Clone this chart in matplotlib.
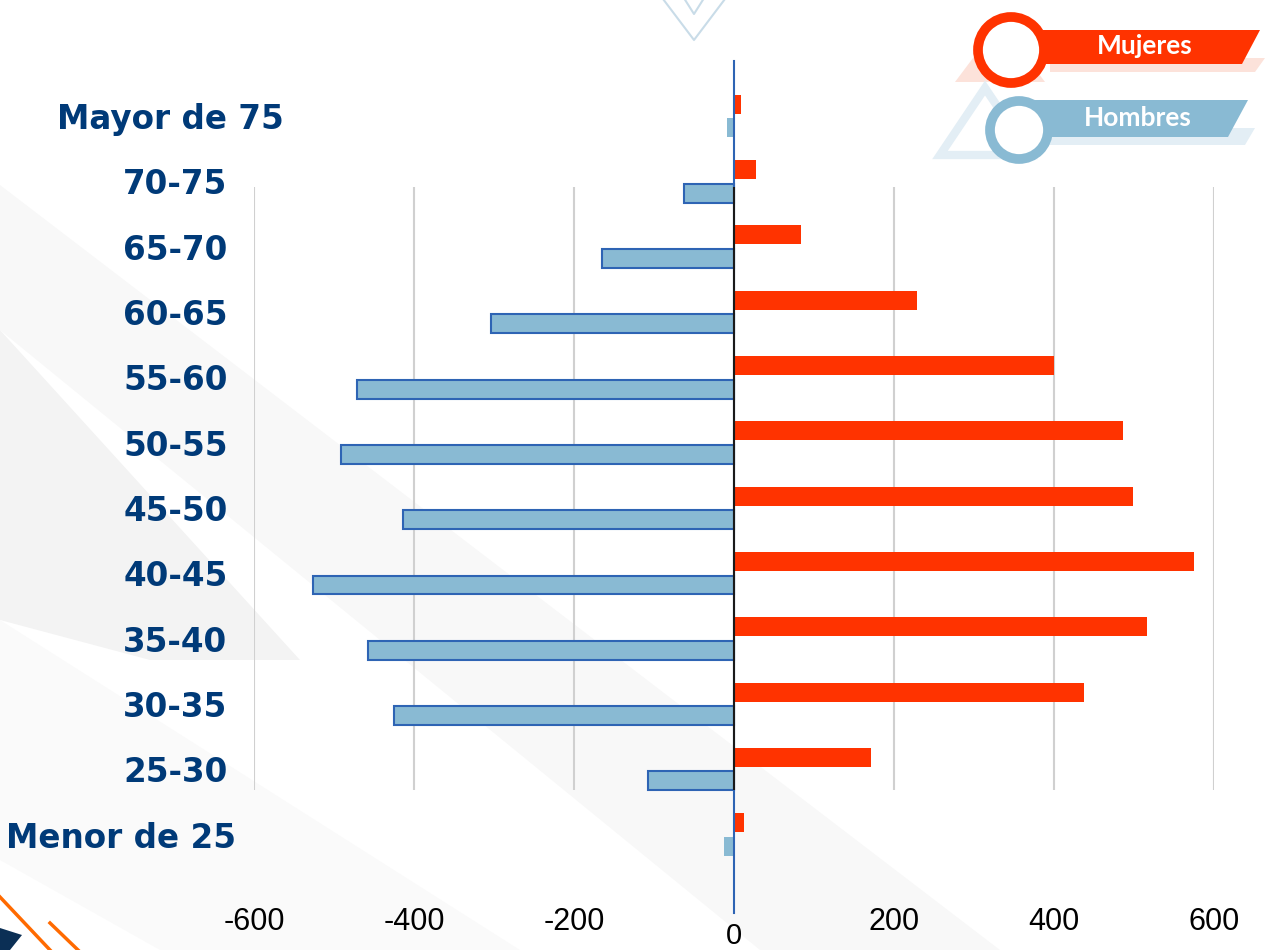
import matplotlib.pyplot as plt
from matplotlib.patches import Polygon, Circle
from matplotlib.transforms import ScaledTranslation, blended_transform_factory

categories = ["Mayor de 75", "70-75", "65-70", "60-65", "55-60", "50-55",
              "45-50", "40-45", "35-40", "30-35", "25-30", "Menor de 25"]
mujeres = [9, 28, 84, 229, 400, 486, 499, 575, 516, 438, 171, 12]
hombres = [-9, -62, -165, -304, -471, -491, -414, -526, -458, -425, -108, -12]
ticks = [-600, -400, -200, 0, 200, 400, 600]
tick_labels = ["-600", "-400", "-200", "", "200", "400", "600"]

RED = "#FF3300"
BLUE = "#89BAD3"
BLUE_EDGE = "#2E64B4"
NAVY = "#003A78"

W, H = 1265, 950
fig = plt.figure(figsize=(W / 100, H / 100), dpi=100)
fig.patch.set_facecolor("white")

# background decoration, drawn in pixel coords
bg = fig.add_axes([0, 0, 1, 1], zorder=0)
bg.set_xlim(0, W)
bg.set_ylim(H, 0)
bg.axis("off")
bg.add_patch(Polygon([(0, 185), (0, 330), (760, 950), (1000, 950)], closed=True,
                     facecolor="#F8F8F8", edgecolor="none"))
bg.add_patch(Polygon([(0, 330), (0, 620), (150, 660), (300, 660)], closed=True,
                     facecolor="#F3F3F3", edgecolor="none"))
bg.add_patch(Polygon([(0, 620), (0, 860), (160, 950), (520, 950)], closed=True,
                     facecolor="#FAFAFA", edgecolor="none"))
bg.plot([660, 694, 728], [-5, 40, -5], color="#C9DCE8", lw=1.5)
bg.plot([682, 694, 706], [-5, 14, -5], color="#C9DCE8", lw=1.5)
bg.plot([0, 50], [897, 950], color="#FF6A00", lw=2.5)
bg.plot([50, 78], [923, 950], color="#FF6A00", lw=2.5)
bg.add_patch(Polygon([(0, 928), (0, 950), (10, 950), (22, 935)], closed=True,
                     facecolor="#0B2F55", edgecolor="none"))

# legend graphics
bg.add_patch(Polygon([(955, 82), (1000, 22), (1045, 82)], closed=True,
                     facecolor="#FCE2DA", edgecolor="none"))
bg.add_patch(Polygon([(1050, 58), (1265, 58), (1255, 72), (1050, 72)], closed=True,
                     facecolor="#FCE2DA", edgecolor="none"))
bg.add_patch(Polygon([(940, 155), (985, 88), (1030, 155)], closed=True,
                     facecolor="none", edgecolor="#E3EEF5", lw=6))
bg.add_patch(Polygon([(1040, 128), (1255, 128), (1245, 145), (1040, 145)], closed=True,
                     facecolor="#E3EEF5", edgecolor="none"))
bg.add_patch(Polygon([(1030, 30), (1260, 30), (1242, 64), (1030, 64)], closed=True,
                     facecolor=RED, edgecolor="none"))
bg.add_patch(Circle((1011, 50), 33, facecolor="white", edgecolor=RED, lw=7))
bg.add_patch(Polygon([(1025, 100), (1248, 100), (1228, 137), (1025, 137)], closed=True,
                     facecolor=BLUE, edgecolor="none"))
bg.add_patch(Circle((1019, 130), 29, facecolor="white", edgecolor=BLUE, lw=7))
bg.text(1145, 46, "Mujeres", color="white", fontsize=19, fontweight="bold",
        family="Lato", ha="center", va="center")
bg.text(1138, 118, "Hombres", color="white", fontsize=19, fontweight="bold",
        family="Lato", ha="center", va="center")

# main chart
top_px, bot_px = 61, 900
ax = fig.add_axes([254 / W, 1 - bot_px / H, (1214 - 254) / W, (bot_px - top_px) / H],
                  zorder=1)
ax.patch.set_alpha(0)
step = 65.32
ax.set_xlim(-600, 600)
ax.set_ylim((bot_px - 116) / step, (top_px - 116) / step)

y = list(range(len(categories)))
edges = ["none"] + [BLUE_EDGE] * (len(categories) - 2) + ["none"]
ax.barh([v - 0.18 for v in y], mujeres, height=0.29, color=RED, zorder=3)
ax.barh([v + 0.18 for v in y], hombres, height=0.29, color=BLUE,
        edgecolor=edges, linewidth=1.5, zorder=3)

g0, g1 = (187 - 116) / step, (790 - 116) / step
ax.vlines([t for t in ticks if t != 0], g0, g1, color="#D0D0D0", lw=1.5, zorder=1)
ax.axvline(0, ymin=-13 / (bot_px - top_px), ymax=1, color=BLUE_EDGE, lw=1.5,
           clip_on=False, zorder=4)
ax.vlines(0, g0, g1, color="#1A1A1A", lw=1.5, zorder=4)

for s in ax.spines.values():
    s.set_visible(False)
ax.set_xticks(ticks)
ax.set_xticklabels(tick_labels, fontsize=22, family="Liberation Sans")
ax.tick_params(axis="x", length=0, pad=5)
trans = blended_transform_factory(ax.transData, ax.transAxes)
ax.text(0, -0.026, "0", transform=trans, ha="center", va="top", fontsize=21,
        family="Liberation Sans")

ax.set_yticks(y)
ax.set_yticklabels(categories, fontsize=23.5, fontweight="bold", color=NAVY,
                   family="DejaVu Sans")
ax.tick_params(axis="y", length=0, pad=19)
labels = ax.get_yticklabels()
labels[0].set_transform(labels[0].get_transform() + ScaledTranslation(0.56, 0, fig.dpi_scale_trans))
labels[-1].set_transform(labels[-1].get_transform() + ScaledTranslation(0.08, 0, fig.dpi_scale_trans))

fig.savefig("out.png", dpi=100)
